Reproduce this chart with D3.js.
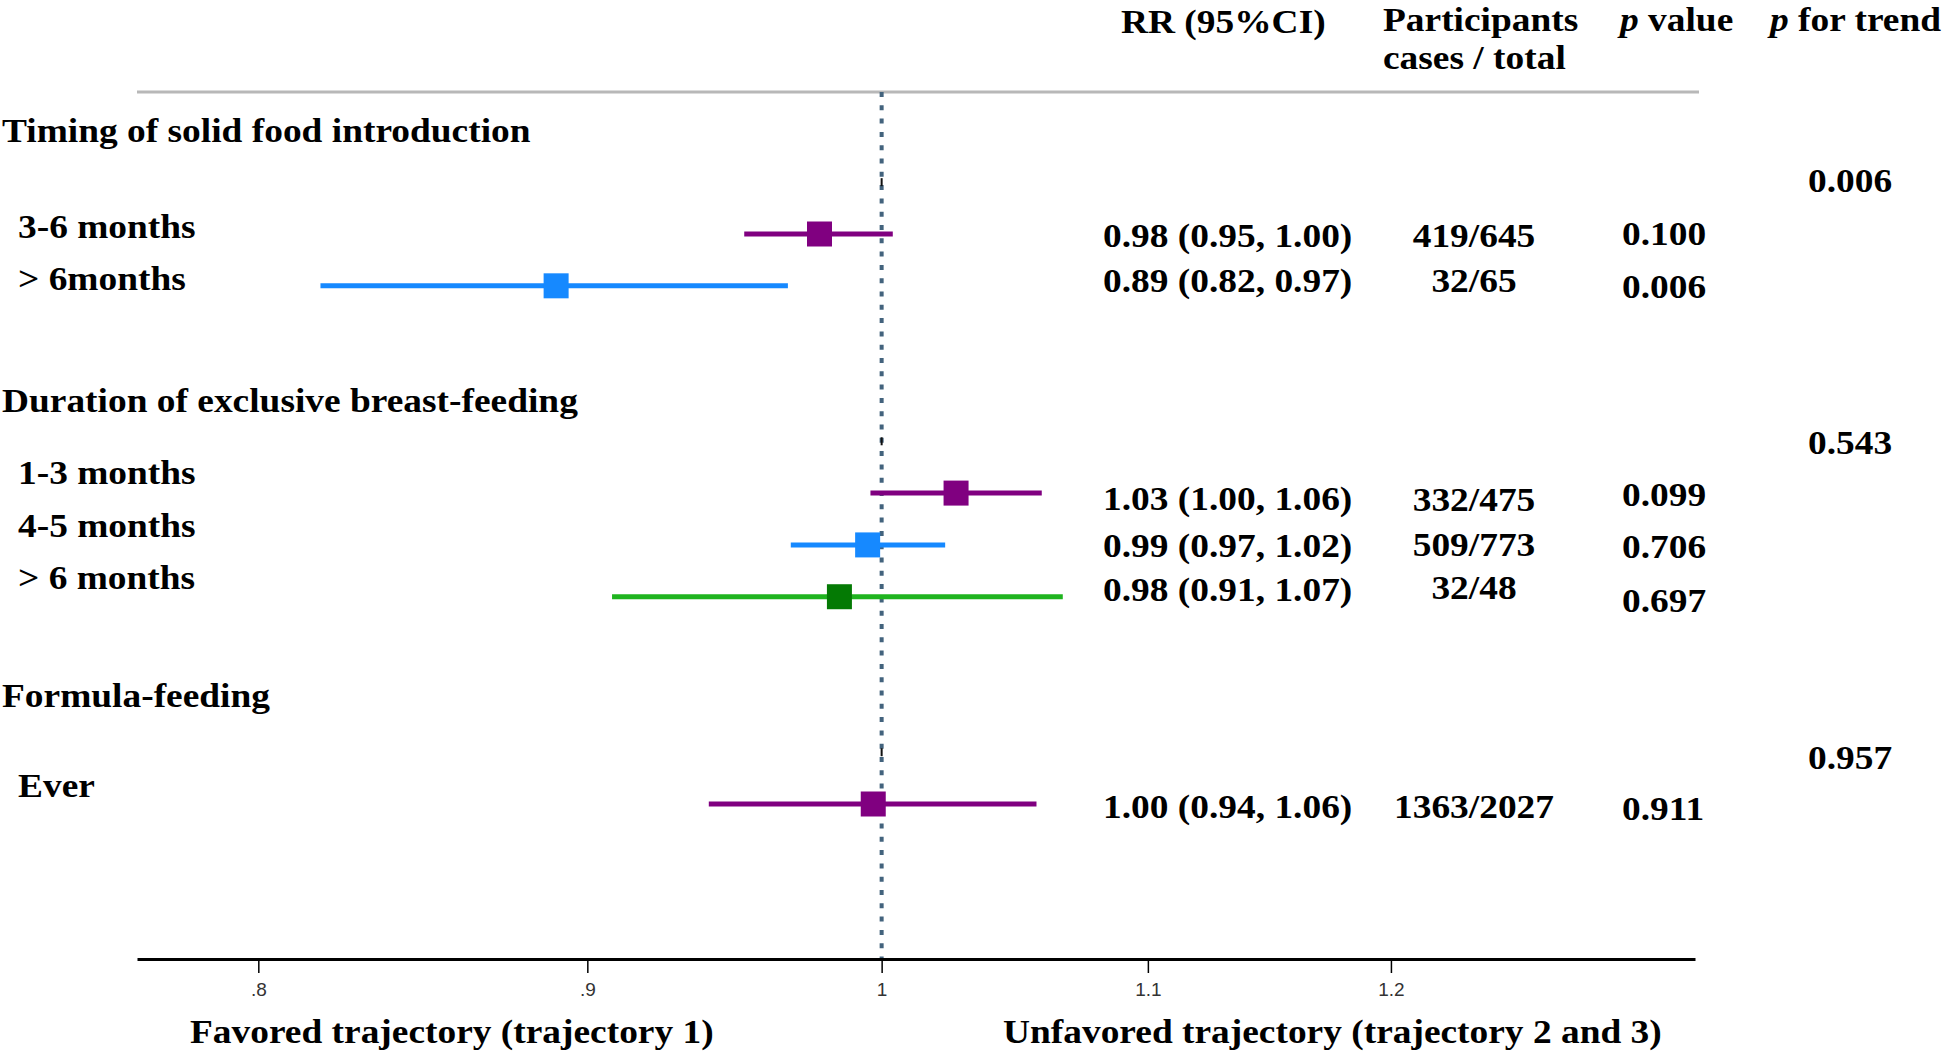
<!DOCTYPE html>
<html>
<head>
<meta charset="utf-8">
<script src="https://cdn.jsdelivr.net/npm/d3@7"></script>
<style>
  html, body { margin: 0; padding: 0; background: #fff; }
  svg { display: block; }
</style>
</head>
<body>
<svg id="chart" width="1946" height="1054"></svg>
<script>
// ---------------- DATA ----------------
const groups = ["Timing of solid food introduction", "Duration of exclusive breast-feeding", "Formula-feeding"];
const labels = ["3-6 months", "> 6months", "1-3 months", "4-5 months", "> 6 months", "Ever"];
const levelIndex = [1, 2, 1, 2, 3, 1];
const rr = [0.978, 0.890, 1.027, 0.995, 0.985, 0.997];
const lower = [0.952, 0.818, 0.996, 0.968, 0.908, 0.940];
const upper = [1.004, 0.967, 1.059, 1.023, 1.067, 1.057];
const rrText = ["0.98 (0.95, 1.00)", "0.89 (0.82, 0.97)", "1.03 (1.00, 1.06)", "0.99 (0.97, 1.02)", "0.98 (0.91, 1.07)", "1.00 (0.94, 1.06)"];
const participants = ["419/645", "32/65", "332/475", "509/773", "32/48", "1363/2027"];
const pValues = ["0.100", "0.006", "0.099", "0.706", "0.697", "0.911"];
const pTrend = ["0.006", "0.543", "0.957"];
const tickValues = [0.8, 0.9, 1, 1.1, 1.2];
const tickLabels = [".8", ".9", "1", "1.1", "1.2"];
const xTitles = ["Favored trajectory (trajectory 1)", "Unfavored trajectory (trajectory 2 and 3)"];

// ---------------- LAYOUT (row units / pixel offsets) ----------------
const itemRow = [0, 1, 5, 6, 7, 11];
const trendRow = [-1, 4, 10];
const groupRow = [-1.775, 3.435, 9.128];
const labelDy = [4, 4, -9, -8, -8, -7];
const rrDy = [13, 6, 17, 12, 4, 14];
const partDy = [13, 6, 18, 11, 2, 14];
const pDy = [11, 12, 13, 13, 15, 16];
const trendDy = [10, 13, 17];

const W = 1946, H = 1054;
const FONT = "'Liberation Serif', 'Times New Roman', Times, serif";
const FS = 34, STRETCH = 1.1;

const svg = d3.select("#chart");
svg.append("rect").attr("width", W).attr("height", H).attr("fill", "#fff");

const x = d3.scaleLog().domain([0.766, 1.338]).range([137, 1695]);
const y = d3.scaleLinear().domain([0, 11]).range([234, 804]);
const color = d3.scaleOrdinal().domain([1, 2, 3]).range(["#800080", "#1689ff", "#1fb41f"]);
const markerColor = d3.scaleOrdinal().domain([1, 2, 3]).range(["#800080", "#1689ff", "#047a04"]);

const topY = 92, axisY = 959;

function stretch(sel) {
  sel.each(function () {
    const len = this.getComputedTextLength();
    d3.select(this).attr("textLength", len * STRETCH).attr("lengthAdjust", "spacingAndGlyphs");
  });
  return sel;
}
function txt(g, xx, yy, s, anchor) {
  const t = g.append("text")
    .attr("x", xx).attr("y", yy)
    .attr("font-family", FONT).attr("font-weight", "bold").attr("font-size", FS)
    .attr("fill", "#000").attr("text-anchor", anchor || "start")
    .text(s);
  stretch(t);
  return t;
}

// top grey rule
svg.append("line").attr("x1", x.range()[0]).attr("x2", 1699)
  .attr("y1", topY).attr("y2", topY)
  .attr("stroke", "#b8b8b8").attr("stroke-width", 3);

// reference line at 1
svg.append("line").attr("x1", x(1)).attr("x2", x(1))
  .attr("y1", topY).attr("y2", axisY)
  .attr("stroke", "#43637d").attr("stroke-width", 4)
  .attr("stroke-dasharray", "5,8.3");

// tiny marks on trend rows
svg.selectAll(".trendmark").data(trendRow).join("rect")
  .attr("x", x(1) - 1).attr("y", d => y(d) - 4)
  .attr("width", 2).attr("height", 8).attr("fill", "#111");

// axis
const axis = d3.axisBottom(x).tickValues(tickValues)
  .tickFormat((d, i) => tickLabels[i]).tickSizeInner(14).tickSizeOuter(0).tickPadding(10);
const ag = svg.append("g").attr("transform", `translate(0,${axisY})`).call(axis);
ag.select(".domain").attr("stroke", "#000").attr("stroke-width", 3);
ag.selectAll(".tick line").attr("stroke", "#000").attr("stroke-width", 1.5);
ag.selectAll(".tick text")
  .attr("font-family", "'Liberation Sans Narrow', 'Arial Narrow', 'Liberation Sans', Arial, sans-serif")
  .attr("font-size", 19).attr("fill", "#333");

// CI lines
const idx = d3.range(rr.length);
svg.selectAll(".ci").data(idx).join("line")
  .attr("x1", i => x(lower[i])).attr("x2", i => x(upper[i]))
  .attr("y1", i => y(itemRow[i])).attr("y2", i => y(itemRow[i]))
  .attr("stroke", i => color(levelIndex[i])).attr("stroke-width", 5);

// markers
const MS = 25;
svg.selectAll(".pt").data(idx).join("rect")
  .attr("x", i => x(rr[i]) - MS / 2).attr("y", i => y(itemRow[i]) - MS / 2)
  .attr("width", MS).attr("height", MS)
  .attr("fill", i => markerColor(levelIndex[i]));

// headers
const hg = svg.append("g");
txt(hg, 1121, 33, "RR (95%CI)");
txt(hg, 1383, 31, "Participants");
txt(hg, 1383, 69, "cases / total");
{
  const t = hg.append("text").attr("x", 1620).attr("y", 31)
    .attr("font-family", FONT).attr("font-weight", "bold").attr("font-size", FS);
  t.append("tspan").attr("font-style", "italic").text("p");
  t.append("tspan").text(" value");
  stretch(t);
  const t2 = hg.append("text").attr("x", 1770).attr("y", 31)
    .attr("font-family", FONT).attr("font-weight", "bold").attr("font-size", FS);
  t2.append("tspan").attr("font-style", "italic").text("p");
  t2.append("tspan").text(" for trend");
  stretch(t2);
}

// group headers and labels
const lg = svg.append("g");
groups.forEach((gname, i) => txt(lg, 2, y(groupRow[i]), gname));
labels.forEach((l, i) => txt(lg, 18, y(itemRow[i]) + labelDy[i], l));

// table columns
const tg = svg.append("g");
rrText.forEach((s, i) => txt(tg, 1103, y(itemRow[i]) + rrDy[i], s));
participants.forEach((s, i) => txt(tg, 1474, y(itemRow[i]) + partDy[i], s, "middle"));
pValues.forEach((s, i) => txt(tg, 1622, y(itemRow[i]) + pDy[i], s));
pTrend.forEach((s, i) => txt(tg, 1808, y(trendRow[i]) + trendDy[i], s));

// x titles
txt(svg, 190, 1043, xTitles[0]);
txt(svg, 1003, 1043, xTitles[1]);
</script>
</body>
</html>
